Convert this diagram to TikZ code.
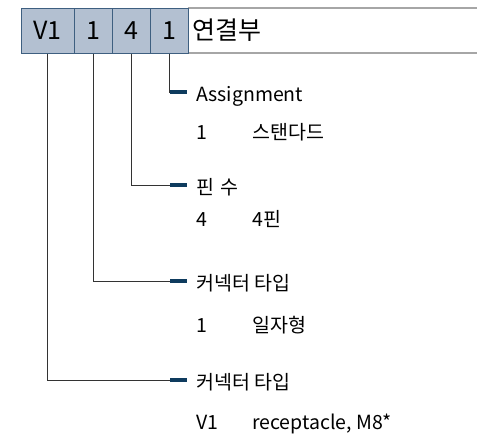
\documentclass[tikz,border=0pt]{standalone}
\usepackage{fontspec}
\setmainfont{Noto Sans CJK KR}
\definecolor{boxfill}{HTML}{B3C0D1}
\definecolor{boxline}{HTML}{3E5F80}
\definecolor{barcol}{HTML}{0E3B5E}
\definecolor{rulecol}{HTML}{A6A6A6}
\begin{document}
\begin{tikzpicture}[x=1pt,y=-1pt,
  code box/.style={rectangle,draw=boxline,fill=boxfill,line width=1pt,minimum height=45pt,inner sep=0pt,font=\fontsize{25}{25}\selectfont},
  lead/.style={draw=black!80,line width=0.8pt},
  bar/.style={draw=barcol,line width=3.5pt},
  txt/.style={anchor=base west,inner sep=0pt,font=\fontsize{19.5}{19.5}\selectfont}]

  \useasboundingbox (0,0) rectangle (477,440);

  % header
  \draw[rulecol,line width=1.5pt] (188,8) -- (478,8) (188,53) -- (478,53);
  \node[code box,minimum width=53pt] (v1) at (47.5,30.5){V1};
  \node[code box,minimum width=38pt] (c1) at (93,30.5){1};
  \node[code box,minimum width=38pt] (p4) at (131,30.5){4};
  \node[code box,minimum width=38pt] (a1) at (169,30.5){1};
  \node[anchor=west,inner sep=0pt,font=\fontsize{25}{25}\selectfont] (head) at (192,30.5){연결부};

  \coordinate (ja) at (170,92);
  \coordinate (jp) at (170,185);
  \coordinate (jc) at (170,281);
  \coordinate (jv) at (170,380);

  \node[txt] (la) at (196,101){Assignment};
  \node[txt] (ka) at (196,139){1};
  \node[txt] (va) at (252,139){스탠다드};

  \node[txt] (lp) at (196,194){핀\hspace{2pt} 수};
  \node[txt] (kp) at (196,226){4};
  \node[txt] (vp) at (252,226){4핀};

  \node[txt] (lc) at (196,290){커넥터 타입};
  \node[txt] (kc) at (196,332){1};
  \node[txt] (vc) at (252,332){일자형};

  \node[txt] (lv) at (196,389){커넥터 타입};
  \node[txt] (kv) at (196,429){V1};
  \node[txt] (vv) at (252,429){receptacle, M8*};

  % leader lines
  \draw[lead] (a1.south) |- (ja);
  \draw[lead] (p4.south) |- (jp);
  \draw[lead] (c1.south) |- (jc);
  \draw[lead] (v1.south) |- (jv);
  \foreach \j in {ja,jp,jc,jv}
    \draw[bar] (\j) -- ++(17,0);
\end{tikzpicture}
\end{document}
